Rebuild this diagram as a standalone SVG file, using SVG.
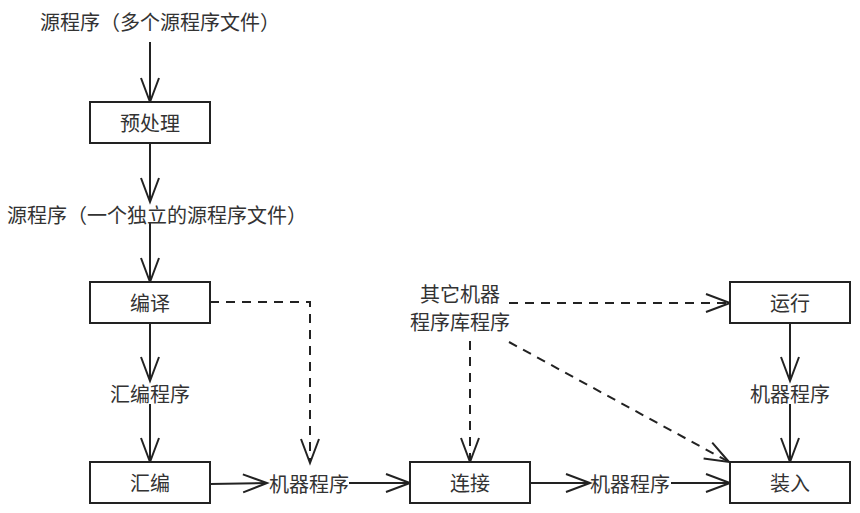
<svg xmlns="http://www.w3.org/2000/svg" width="860" height="513" viewBox="0 0 860 513">
<style>
.box{fill:#fff;stroke:#222;stroke-width:2}
.t{font-family:"Noto Sans CJK SC","Noto Sans",sans-serif;font-size:20px;fill:#333;text-anchor:middle;dominant-baseline:central}
.ln{fill:none;stroke:#222;stroke-width:2}
.d{stroke-dasharray:9 7}
</style>
<defs>
<marker id="ar" markerUnits="userSpaceOnUse" markerWidth="30" markerHeight="24" viewBox="-2 -2 30 24" refX="24" refY="9" orient="auto">
<path d="M0,0 L24,9 L0,18" fill="none" stroke="#222" stroke-width="2" stroke-dasharray="none"/>
</marker>
</defs>
<rect width="860" height="513" fill="#fff"/>
<g id="connectors">
<path class="ln" d="M150,42 V102" marker-end="url(#ar)"/>
<path class="ln" d="M150,143 V202" marker-end="url(#ar)"/>
<path class="ln" d="M150,223 V282" marker-end="url(#ar)"/>
<path class="ln" d="M150,323 V381" marker-end="url(#ar)"/>
<path class="ln" d="M150,404 V462" marker-end="url(#ar)"/>
<path class="ln" d="M210,484 L267,483" marker-end="url(#ar)"/>
<path class="ln" d="M349,483 H410" marker-end="url(#ar)"/>
<path class="ln" d="M530,483 H590" marker-end="url(#ar)"/>
<path class="ln" d="M671,483 H730" marker-end="url(#ar)"/>
<path class="ln" d="M790,323 V381" marker-end="url(#ar)"/>
<path class="ln" d="M790,404 V462" marker-end="url(#ar)"/>
<path class="ln d" d="M210,302 H310 V463" marker-end="url(#ar)"/>
<path class="ln d" d="M509,303 H730" marker-end="url(#ar)"/>
<path class="ln d" d="M470,341 V462" marker-end="url(#ar)"/>
<path class="ln d" d="M509,342 L729,462" marker-end="url(#ar)"/>
</g>
<g id="src-multi"><text class="t" x="160" y="21">源程序（多个源程序文件）</text></g>
<g id="preprocess"><rect class="box" x="90" y="102" width="120" height="41"/><text class="t" x="150" y="122.5">预处理</text></g>
<g id="src-single"><text class="t" x="157" y="214">源程序（一个独立的源程序文件）</text></g>
<g id="compile"><rect class="box" x="90" y="282" width="120" height="41"/><text class="t" x="150" y="302.5">编译</text></g>
<g id="asm-prog"><text class="t" x="150" y="393">汇编程序</text></g>
<g id="assemble"><rect class="box" x="90" y="462" width="120" height="41"/><text class="t" x="150" y="482.5">汇编</text></g>
<g id="mach1"><text class="t" x="309" y="483">机器程序</text></g>
<g id="link"><rect class="box" x="410" y="462" width="120" height="41"/><text class="t" x="470" y="482.5">连接</text></g>
<g id="mach2"><text class="t" x="630" y="483">机器程序</text></g>
<g id="load"><rect class="box" x="730" y="462" width="120" height="41"/><text class="t" x="790" y="482.5">装入</text></g>
<g id="libs"><text class="t" x="460" y="293">其它机器</text><text class="t" x="460" y="321">程序库程序</text></g>
<g id="run"><rect class="box" x="730" y="282" width="120" height="41"/><text class="t" x="790" y="302.5">运行</text></g>
<g id="mach3"><text class="t" x="790" y="393">机器程序</text></g>
</svg>
